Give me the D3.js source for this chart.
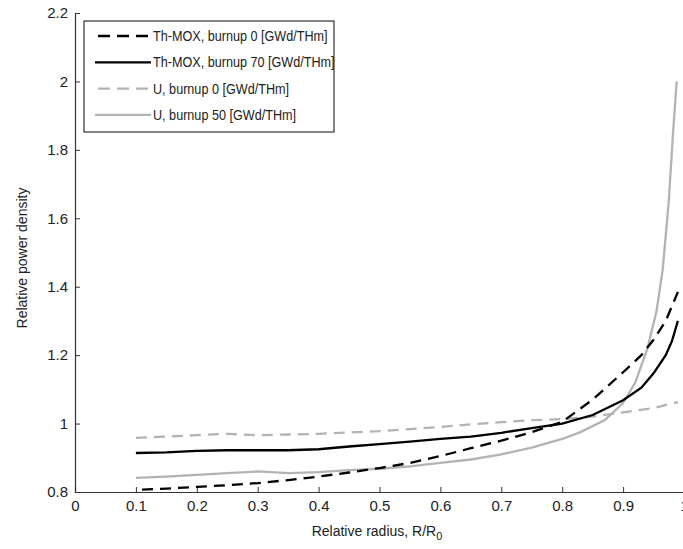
<!DOCTYPE html>
<html lang="en">
<head>
<meta charset="utf-8">
<title>relative power density</title>
<script src="https://cdn.jsdelivr.net/npm/d3@7"></script>
<style>
body { margin: 0; background: #fff; }
text { font-family: "Liberation Sans", Arial, sans-serif; fill: #222; }
</style>
</head>
<body>
<script>
var w = 683;
var h = 549;

// tick values
var xTicks = [0, 0.1, 0.2, 0.3, 0.4, 0.5, 0.6, 0.7, 0.8, 0.9, 1];
var yTicks = [0.8, 1, 1.2, 1.4, 1.6, 1.8, 2, 2.2];

// series: [radius, density]
var thMox0 = [[0.11,0.807],[0.15,0.81],[0.2,0.815],[0.25,0.82],[0.3,0.826],[0.35,0.835],[0.4,0.845],
  [0.45,0.857],[0.5,0.87],[0.55,0.885],[0.6,0.905],[0.65,0.928],[0.7,0.95],[0.75,0.975],[0.8,1.005],
  [0.85,1.07],[0.9,1.15],[0.93,1.2],[0.95,1.245],[0.97,1.3],[0.99,1.385]];
var thMox70 = [[0.1,0.914],[0.15,0.916],[0.2,0.92],[0.25,0.922],[0.3,0.922],[0.35,0.922],[0.4,0.925],
  [0.45,0.933],[0.5,0.94],[0.55,0.947],[0.6,0.955],[0.65,0.962],[0.7,0.973],[0.75,0.987],[0.8,1.0],
  [0.85,1.025],[0.9,1.068],[0.93,1.105],[0.95,1.147],[0.97,1.2],[0.98,1.24],[0.99,1.3]];
var u0 = [[0.1,0.958],[0.15,0.962],[0.2,0.966],[0.25,0.97],[0.3,0.966],[0.35,0.968],[0.4,0.97],
  [0.45,0.974],[0.5,0.978],[0.55,0.984],[0.6,0.99],[0.65,0.998],[0.7,1.004],[0.75,1.01],[0.8,1.013],
  [0.85,1.02],[0.9,1.033],[0.95,1.045],[0.99,1.063]];
var u50 = [[0.1,0.841],[0.15,0.845],[0.2,0.85],[0.25,0.855],[0.3,0.86],[0.35,0.855],[0.4,0.858],
  [0.45,0.864],[0.5,0.868],[0.55,0.875],[0.6,0.885],[0.65,0.895],[0.7,0.91],[0.75,0.93],[0.8,0.955],
  [0.83,0.975],[0.87,1.01],[0.9,1.06],[0.92,1.12],[0.94,1.22],[0.955,1.33],[0.965,1.45],[0.975,1.65],
  [0.982,1.85],[0.988,2.0]];

var names = ["Th-MOX, burnup 0 [GWd/THm]", "Th-MOX, burnup 70 [GWd/THm]",
             "U, burnup 0 [GWd/THm]", "U, burnup 50 [GWd/THm]"];
var series = [thMox0, thMox70, u0, u50];
var colors = ["#000", "#000", "#b3b3b3", "#b3b3b3"];
var dashes = ["11,7", null, "11,7", null];

var xScale = d3.scaleLinear().domain([0, 1]).range([75, 684]);
var yScale = d3.scaleLinear().domain([0.8, 2.2]).range([492, 13]);

var svg = d3.select("body").append("svg")
  .attr("width", w)
  .attr("height", h);

var xAxis = d3.axisBottom(xScale)
  .tickValues(xTicks)
  .tickSize(-5)
  .tickPadding(8)
  .tickFormat(d3.format(""));
var yAxis = d3.axisLeft(yScale)
  .tickValues(yTicks)
  .tickSize(-5)
  .tickPadding(7)
  .tickFormat(d3.format(""));

var gx = svg.append("g")
  .attr("transform", "translate(0," + yScale(0.8) + ")")
  .call(xAxis);
var gy = svg.append("g")
  .attr("transform", "translate(" + xScale(0) + ",0)")
  .call(yAxis);

[gx, gy].forEach(function(g) {
  g.select(".domain").attr("stroke", "#333").attr("stroke-width", 1.2);
  g.selectAll(".tick line").attr("stroke", "#333");
  g.selectAll(".tick text")
    .attr("font-family", "'Liberation Sans', Arial, sans-serif")
    .attr("font-size", 15)
    .attr("fill", "#222");
});

// lines
var line = d3.line()
  .x(function(d) { return xScale(d[0]); })
  .y(function(d) { return yScale(d[1]); });

var order = [2, 3, 0, 1];
order.forEach(function(i) {
  svg.append("path")
    .datum(series[i])
    .attr("d", line)
    .attr("fill", "none")
    .attr("stroke", colors[i])
    .attr("stroke-width", 2.3)
    .attr("stroke-dasharray", dashes[i]);
});

// axis titles
svg.append("text")
  .attr("x", 377)
  .attr("y", 536)
  .attr("text-anchor", "middle")
  .attr("font-size", 14)
  .html('Relative radius, R/R<tspan dy="4" font-size="11">0</tspan>');

svg.append("text")
  .attr("transform", "translate(27,258) rotate(-90)")
  .attr("text-anchor", "middle")
  .attr("font-size", 14)
  .text("Relative power density");

// legend
var legend = svg.append("g");
legend.append("rect")
  .attr("x", 84).attr("y", 21)
  .attr("width", 250).attr("height", 111)
  .attr("fill", "#fff")
  .attr("stroke", "#333")
  .attr("stroke-width", 1.2);

names.forEach(function(name, i) {
  var y = 36 + i * 26.3;
  legend.append("line")
    .attr("x1", 95).attr("x2", 151)
    .attr("y1", y).attr("y2", y)
    .attr("stroke", colors[i])
    .attr("stroke-width", 2.3)
    .attr("stroke-dasharray", dashes[i] ? "12,7" : null)
    .attr("stroke-dashoffset", dashes[i] ? -3 : null);
  var t = legend.append("text")
    .attr("x", 153)
    .attr("y", y + 5)
    .attr("font-size", 14.5)
    .text(name);
  // squeeze to the narrower original face
  var len = t.node().getComputedTextLength();
  t.attr("textLength", len * 0.87).attr("lengthAdjust", "spacingAndGlyphs");
});
</script>
</body>
</html>
